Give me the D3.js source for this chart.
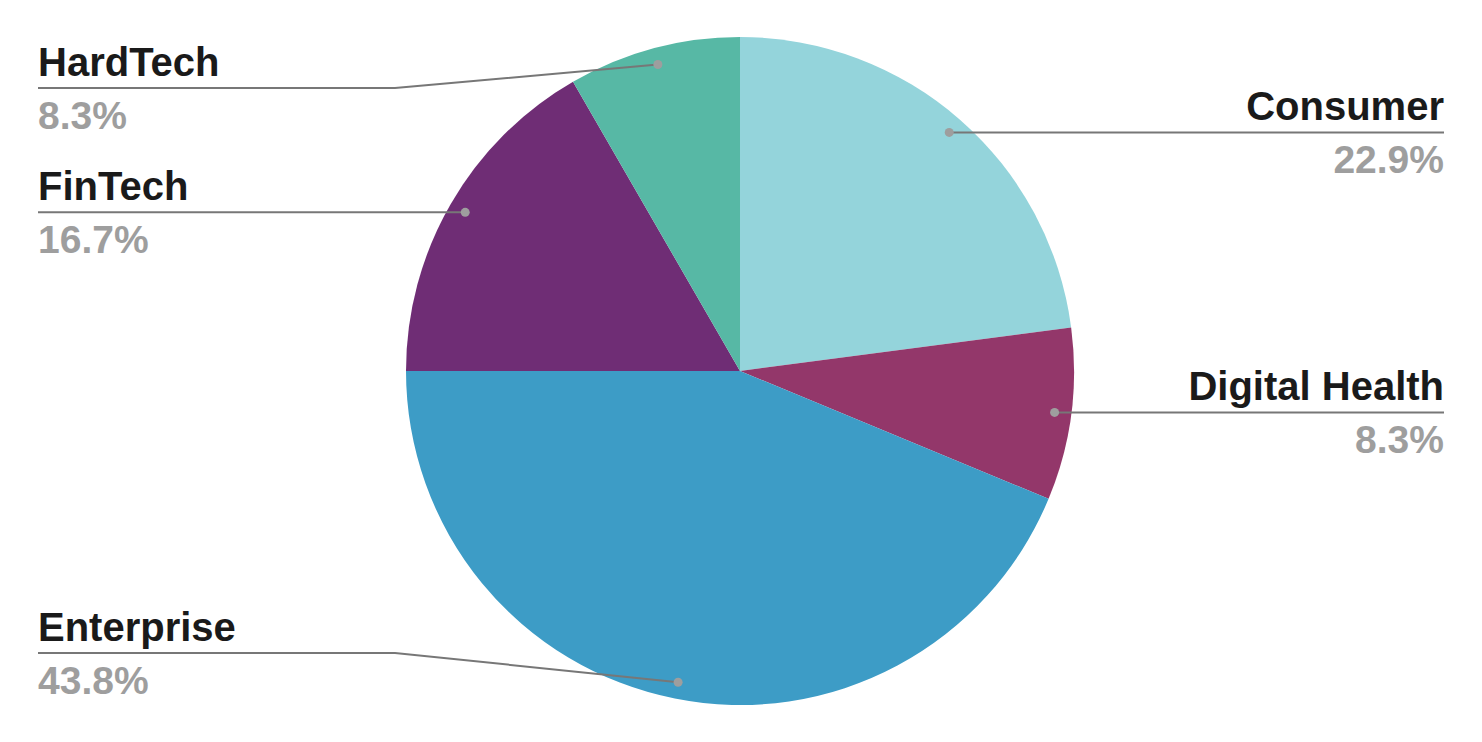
<!DOCTYPE html>
<html><head><meta charset="utf-8">
<script src="https://cdn.jsdelivr.net/npm/d3@7"></script>
<style>html,body{margin:0;padding:0;background:#fff;}svg{display:block;}</style>
</head><body>
<svg id="chart" width="1482" height="742"></svg>
<script>
const categories = ["Consumer", "Digital Health", "Enterprise", "FinTech", "HardTech"];
const values = [11, 4, 21, 8, 4];
const colors = ["#94d4db", "#93376a", "#3d9cc6", "#6f2d75", "#57b8a5"];

const W = 1482, H = 742;
const cx = 740, cy = 371, R = 334;
const svg = d3.select("#chart");
const g = svg.append("g").attr("transform", `translate(${cx},${cy})`);

const total = d3.sum(values);
const pie = d3.pie().sort(null).value(d => d.v);
const arcs = pie(categories.map((c, i) => ({c, v: values[i], col: colors[i]})));
const arc = d3.arc().innerRadius(0).outerRadius(R);
const dotArc = d3.arc().innerRadius(R * 0.95).outerRadius(R * 0.95);

g.selectAll("path.slice").data(arcs).enter().append("path")
  .attr("class", "slice").attr("d", arc).attr("fill", d => d.data.col);

const fmt = v => (v / total * 100).toFixed(1) + "%";
const leftX = 38, rightX = 1444, bendL = 395;
const yMin = 88, yMax = 653;

arcs.forEach(d => {
  const [dx, dy] = dotArc.centroid(d);
  const px = cx + dx, py = cy + dy;
  const mid = (d.startAngle + d.endAngle) / 2;
  const right = mid < Math.PI;
  const ly = Math.max(yMin, Math.min(yMax, py));
  let pts;
  if (right) {
    pts = ly === py ? [[px, py], [rightX, ly]] : [[px, py], [W - bendL, ly], [rightX, ly]];
  } else {
    pts = ly === py ? [[px, py], [leftX, ly]] : [[px, py], [bendL, ly], [leftX, ly]];
  }
  svg.append("polyline")
    .attr("points", pts.map(p => p.join(",")).join(" "))
    .attr("fill", "none").attr("stroke", "#777").attr("stroke-width", 2);
  svg.append("circle").attr("cx", px).attr("cy", py).attr("r", 4.5).attr("fill", "#9e9e9e");
  const tx = right ? rightX : leftX;
  const anchor = right ? "end" : "start";
  svg.append("text").attr("x", tx).attr("y", ly - 12)
    .attr("text-anchor", anchor)
    .attr("font-family", "Liberation Sans, Arial, sans-serif")
    .attr("font-weight", "bold").attr("font-size", 40)
    .attr("fill", "#1a1a1a").text(d.data.c);
  svg.append("text").attr("x", tx).attr("y", ly + 41)
    .attr("text-anchor", anchor)
    .attr("font-family", "Liberation Sans, Arial, sans-serif")
    .attr("font-weight", "bold").attr("font-size", 39)
    .attr("fill", "#9e9e9e").text(fmt(d.data.v));
});
</script>
</body></html>
